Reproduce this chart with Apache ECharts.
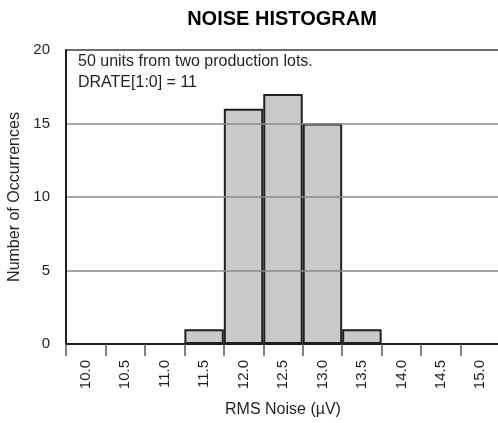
<!DOCTYPE html>
<html>
<head>
<meta charset="utf-8">
<script src="https://cdn.jsdelivr.net/npm/echarts@6/dist/echarts.min.js"></script>
<style>
html,body{margin:0;padding:0;background:#fff;}
#chart{width:498px;height:423px;}
</style>
</head>
<body>
<div id="chart"></div>
<script>
const categories = ['10.0','10.5','11.0','11.5','12.0','12.5','13.0','13.5','14.0','14.5','15.0'];
const counts = [0, 0, 0, 1, 16, 17, 15, 1, 0, 0, 0];
const yTicks = [0, 5, 10, 15, 20];
const titleText = 'NOISE HISTOGRAM';
const noteLines = ['50 units from two production lots.', 'DRATE[1:0] = 11'];
const xName = 'RMS Noise (\u00B5V)';
const yName = 'Number of Occurrences';

const ink = '#231f20';
const font = '"Liberation Sans", Arial, Helvetica, sans-serif';
const chart = echarts.init(document.getElementById('chart'), null, {renderer: 'canvas'});
chart.setOption({
  animation: false,
  backgroundColor: '#ffffff',
  textStyle: {fontFamily: font, color: ink},
  grid: {left: 66, top: 50, width: 434, height: 294, containLabel: false, outerBoundsMode: 'none'},
  graphic: [
    {type: 'text', x: 282, y: 9, style: {text: titleText, font: 'bold 20px ' + font, fill: '#000', align: 'center', verticalAlign: 'top'}},
    {type: 'text', x: 78, y: 51, z: 100, style: {text: noteLines.join('\n'), font: '16px ' + font, lineHeight: 21, fill: ink, align: 'left', verticalAlign: 'top'}}
  ],
  xAxis: [{
    type: 'category',
    data: categories,
    boundaryGap: true,
    name: xName,
    nameLocation: 'middle',
    nameGap: 58,
    nameTextStyle: {fontSize: 16, color: ink, fontFamily: font},
    axisLine: {show: true, lineStyle: {color: ink, width: 2}},
    axisTick: {show: true, length: 12, lineStyle: {color: '#555', width: 1.5}},
    axisLabel: {rotate: 90, margin: 16, fontSize: 15, color: ink, fontFamily: font, interval: 0},
    splitLine: {show: false},
    z: 10
  }, {
    type: 'category',
    data: categories,
    position: 'top',
    axisLine: {show: true, lineStyle: {color: ink, width: 2}},
    axisTick: {show: false},
    axisLabel: {show: false},
    splitLine: {show: false}
  }],
  yAxis: {
    type: 'value',
    min: yTicks[0],
    max: yTicks[yTicks.length - 1],
    interval: 5,
    name: yName,
    nameLocation: 'middle',
    nameGap: 42,
    nameTextStyle: {fontSize: 16, color: ink, fontFamily: font},
    axisLine: {show: true, lineStyle: {color: ink, width: 2}},
    axisTick: {show: false},
    axisLabel: {margin: 16, fontSize: 15, color: ink, fontFamily: font},
    splitLine: {show: true, lineStyle: {color: '#8a8a8a', width: 1.5}},
    z: 10
  },
  series: [{
    type: 'bar',
    data: counts,
    barCategoryGap: '0%',
    itemStyle: {color: '#c8c9cb', borderColor: ink, borderWidth: 2},
    z: 2
  }]
});
</script>
</body>
</html>
